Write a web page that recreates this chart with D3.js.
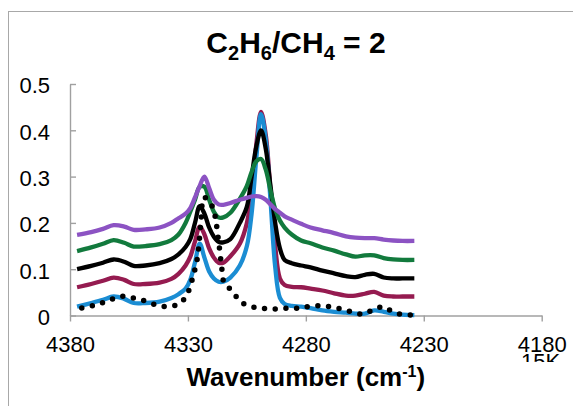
<!DOCTYPE html>
<html><head><meta charset="utf-8">
<script src="https://cdn.jsdelivr.net/npm/d3@7"></script>
<style>
html,body{margin:0;padding:0;background:#fff;}
svg{display:block;font-family:"Liberation Sans",Arial,Helvetica,sans-serif;}
</style></head>
<body>
<svg id="chart" width="573" height="406"></svg>
<script>
// ---- data ----
const wavenumbers = [4377, 4371, 4366, 4361.5, 4357, 4353, 4348, 4342, 4337, 4334, 4331, 4329, 4327, 4325, 4323, 4321, 4319, 4317, 4315, 4312, 4308, 4305, 4303, 4301, 4299, 4297, 4295, 4293, 4291, 4289, 4286, 4282, 4278, 4273, 4268, 4263, 4259, 4255, 4251, 4247, 4243, 4239, 4234];
const purple = [0.174,0.180,0.187,0.195,0.192,0.185,0.186,0.190,0.200,0.210,0.220,0.232,0.255,0.280,0.300,0.275,0.250,0.240,0.239,0.243,0.250,0.254,0.257,0.258,0.256,0.250,0.240,0.230,0.222,0.214,0.207,0.198,0.190,0.184,0.178,0.171,0.168,0.167,0.167,0.164,0.162,0.161,0.161];
const green  = [0.139,0.147,0.155,0.163,0.157,0.149,0.150,0.154,0.163,0.175,0.200,0.224,0.250,0.278,0.278,0.250,0.224,0.212,0.212,0.222,0.252,0.280,0.310,0.333,0.338,0.315,0.270,0.230,0.205,0.190,0.175,0.162,0.156,0.147,0.140,0.132,0.127,0.130,0.130,0.124,0.121,0.120,0.120];
const black  = [0.100,0.107,0.114,0.121,0.116,0.107,0.108,0.113,0.122,0.132,0.148,0.165,0.200,0.236,0.220,0.190,0.170,0.159,0.158,0.165,0.200,0.235,0.300,0.365,0.400,0.360,0.280,0.200,0.145,0.120,0.113,0.108,0.104,0.097,0.091,0.085,0.083,0.088,0.090,0.082,0.080,0.080,0.080];
const maroon = [0.061,0.068,0.075,0.082,0.077,0.068,0.068,0.071,0.079,0.090,0.108,0.127,0.160,0.192,0.175,0.145,0.125,0.114,0.114,0.128,0.155,0.200,0.265,0.370,0.440,0.390,0.270,0.150,0.080,0.066,0.062,0.061,0.058,0.054,0.048,0.043,0.043,0.047,0.051,0.043,0.041,0.041,0.041];
const blue   = [0.019,0.027,0.034,0.041,0.036,0.027,0.027,0.030,0.038,0.046,0.058,0.077,0.115,0.155,0.125,0.095,0.080,0.073,0.073,0.082,0.108,0.150,0.220,0.340,0.435,0.380,0.250,0.105,0.038,0.025,0.021,0.019,0.016,0.011,0.008,0.006,0.004,0.004,0.011,0.008,0.004,0.002,0.001];
const dotWavenumbers = [4375,4370.4,4365.9,4361.3,4357,4352.4,4347.9,4343.5,4339,4334.3,4330.9,4329.1,4327.7,4326.4,4325.6,4324.5,4323.2,4321.5,4319.6,4318.3,4317.5,4316.5,4315.6,4314.6,4311,4308,4303,4298.5,4293.8,4288.8,4283.9,4279.4,4274.4,4269.8,4265.2,4260.6,4256,4251.7,4247.2,4243.9,4239.8,4234.9];
const dotted = [0.016,0.021,0.028,0.037,0.042,0.037,0.031,0.023,0.019,0.024,0.040,0.062,0.087,0.113,0.140,0.200,0.255,0.250,0.235,0.210,0.180,0.140,0.100,0.070,0.052,0.031,0.019,0.0155,0.014,0.0155,0.0155,0.019,0.021,0.019,0.014,0.008,0.003,0.012,0.019,0.010,0.0026,0.001];
const xTicks = [4380, 4330, 4280, 4230, 4180];
const yTicks = [0, 0.1, 0.2, 0.3, 0.4, 0.5];
const yTickLabels = ["0", "0.1", "0.2", "0.3", "0.4", "0.5"];

const seriesList = [
  {name:"maroon", values: maroon, color:"#951b50"},
  {name:"blue",   values: blue,   color:"#1b8dd3"},
  {name:"black",  values: black,  color:"#000000"},
  {name:"green",  values: green,  color:"#127a3d"},
  {name:"purple", values: purple, color:"#8c53c3"}
];

// ---- chart ----
const svg = d3.select("#chart");
svg.append("rect").attr("x",8.5).attr("y",11.5).attr("width",600).attr("height",420)
  .attr("fill","none").attr("stroke","#a8a8a8").attr("stroke-width",1);

const x = d3.scaleLinear().domain([4380, 4180]).range([70, 541.7]);
const y = d3.scaleLinear().domain([0, 0.5]).range([315.5, 84]);

const axisColor = "#a0a0a0";
const fs = 22;

const gy = svg.append("g").attr("transform","translate(70,0)")
  .call(d3.axisLeft(y).tickValues(yTicks).tickFormat((d,i)=>yTickLabels[i])
    .tickSizeInner(-6).tickSizeOuter(0).tickPadding(20));
const gx = svg.append("g").attr("transform","translate(0,315.5)")
  .call(d3.axisBottom(x).tickValues(xTicks).tickFormat(d3.format("d"))
    .tickSizeInner(6).tickSizeOuter(0).tickPadding(15));
[gx, gy].forEach(g => {
  g.selectAll("path.domain").attr("stroke", axisColor).attr("stroke-width",1.4);
  g.selectAll(".tick line").attr("stroke", axisColor).attr("stroke-width",1.4);
  g.selectAll(".tick text").attr("fill","#000").style("font-size", fs+"px")
    .style("font-family",'"Liberation Sans",Arial,sans-serif');
});
gy.selectAll(".tick text").attr("dy","0.40em");

// clipped stray label under 4180
svg.append("clipPath").attr("id","stray").append("rect")
  .attr("x",510).attr("y",352.5).attr("width",60).attr("height",9.5);
svg.append("text").attr("clip-path","url(#stray)")
  .attr("x",521).attr("y",369).style("font-size",fs+"px").text("15K");

const line = d3.line()
  .x((d)=>x(d[0])).y((d)=>y(d[1]))
  .curve(d3.curveCatmullRom.alpha(0.5));

const plot = svg.append("g");
seriesList.forEach(s => {
  plot.append("path")
    .datum(wavenumbers.map((w,i)=>[w, s.values[i]]))
    .attr("d", line).attr("fill","none")
    .attr("stroke", s.color).attr("stroke-width",4.3)
    .attr("stroke-linejoin","round").attr("stroke-linecap","butt");
});
plot.append("path")
  .datum(dotWavenumbers.map((w,i)=>[w, dotted[i]]))
  .attr("d", line).attr("fill","none")
  .attr("stroke","#000").attr("stroke-width",5.5)
  .attr("stroke-linecap","round").attr("stroke-dasharray","0 10.7");

// title
const title = svg.append("text").attr("x",296).attr("y",53)
  .attr("text-anchor","middle").style("font-size","30px").style("font-weight","bold");
const sub = (t) => { title.append("tspan").attr("dy", 7).style("font-size","20px").text(t); };
const main = (t) => { title.append("tspan").attr("dy", -7).text(t); };
title.append("tspan").text("C");
sub("2"); main("H"); sub("6"); main("/CH"); sub("4"); main(" = 2");

// x axis title
const xt = svg.append("text").attr("x",305.8).attr("y",386)
  .attr("text-anchor","middle").style("font-size","26px").style("font-weight","bold");
xt.append("tspan").text("Wavenumber (cm");
xt.append("tspan").attr("dy",-9).style("font-size","16px").text("-1");
xt.append("tspan").attr("dy",9).text(")");
</script>
</body></html>
